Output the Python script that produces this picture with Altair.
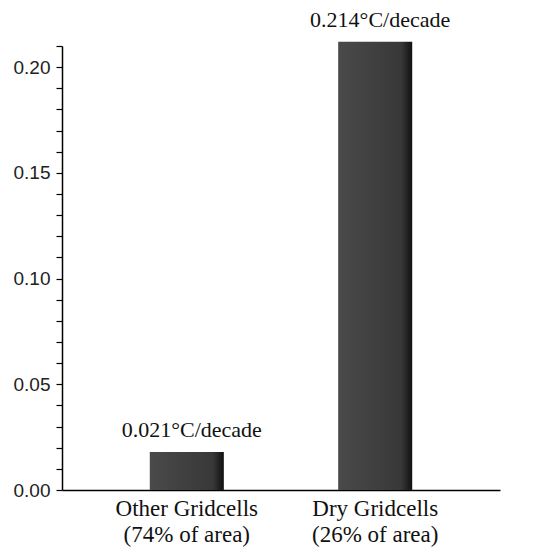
import altair as alt
import pandas as pd

categories = ["Other Gridcells\n(74% of area)", "Dry Gridcells\n(26% of area)"]
values = [0.018, 0.212]
labels = ["0.021\u00b0C/decade", "0.214\u00b0C/decade"]

df = pd.DataFrame({"cat": categories, "val": values, "lab": labels})

minor_ticks = [round(i * 0.01, 2) for i in range(0, 22)]

x = alt.X("cat:N", sort=categories, title=None,
          scale=alt.Scale(paddingInner=0.607, paddingOuter=0.466),
          axis=alt.Axis(labelExpr="split(datum.label, '\\n')", labelAngle=0,
                        ticks=False, labelFont="Liberation Serif", labelFontSize=23,
                        labelColor="#111", labelPadding=7, labelLineHeight=26,
                        labelOverlap=False, labelBound=False,
                        domainColor="#000", domainWidth=1.5, domainOpacity=1))
y = alt.Y("val:Q", title=None,
          scale=alt.Scale(domain=[0, 0.21], nice=False, zero=True),
          axis=alt.Axis(values=minor_ticks, grid=False, tickSize=6, tickColor="#000",
                        tickWidth=1.2, domainColor="#000", domainWidth=1.5,
                        labelOverlap=False, labelBound=False, labelFlush=False,
                        labelExpr="round(datum.value*100) % 5 == 0 ? format(datum.value, '.2f') : ''",
                        labelFont="Liberation Sans", labelFontSize=19, labelColor="#222",
                        labelPadding=6))

base = alt.Chart(df)

bars = base.mark_bar(
    clip=False,
    color=alt.Gradient(gradient="linear", x1=0, x2=1, y1=0, y2=0,
                       stops=[alt.GradientStop(offset=0, color="#4a4a4a"),
                              alt.GradientStop(offset=0.85, color="#383838"),
                              alt.GradientStop(offset=1, color="#111111")])
).encode(x=x, y=y)

text = base.mark_text(font="Liberation Serif", fontSize=22, color="#111",
                      baseline="alphabetic", dy=-15, dx=5).encode(
    x=x, y=y, text="lab:N")

chart = (bars + text).properties(
    width=438, height=444,
    autosize=alt.AutoSizeParams(type="none"),
    padding={"left": 54, "top": 38, "right": 20, "bottom": 60},
    background="white",
).configure_view(stroke=None).configure_axis(labelOverlap=False)

chart.save("out.html", embed_options={"renderer": "svg", "actions": False})
